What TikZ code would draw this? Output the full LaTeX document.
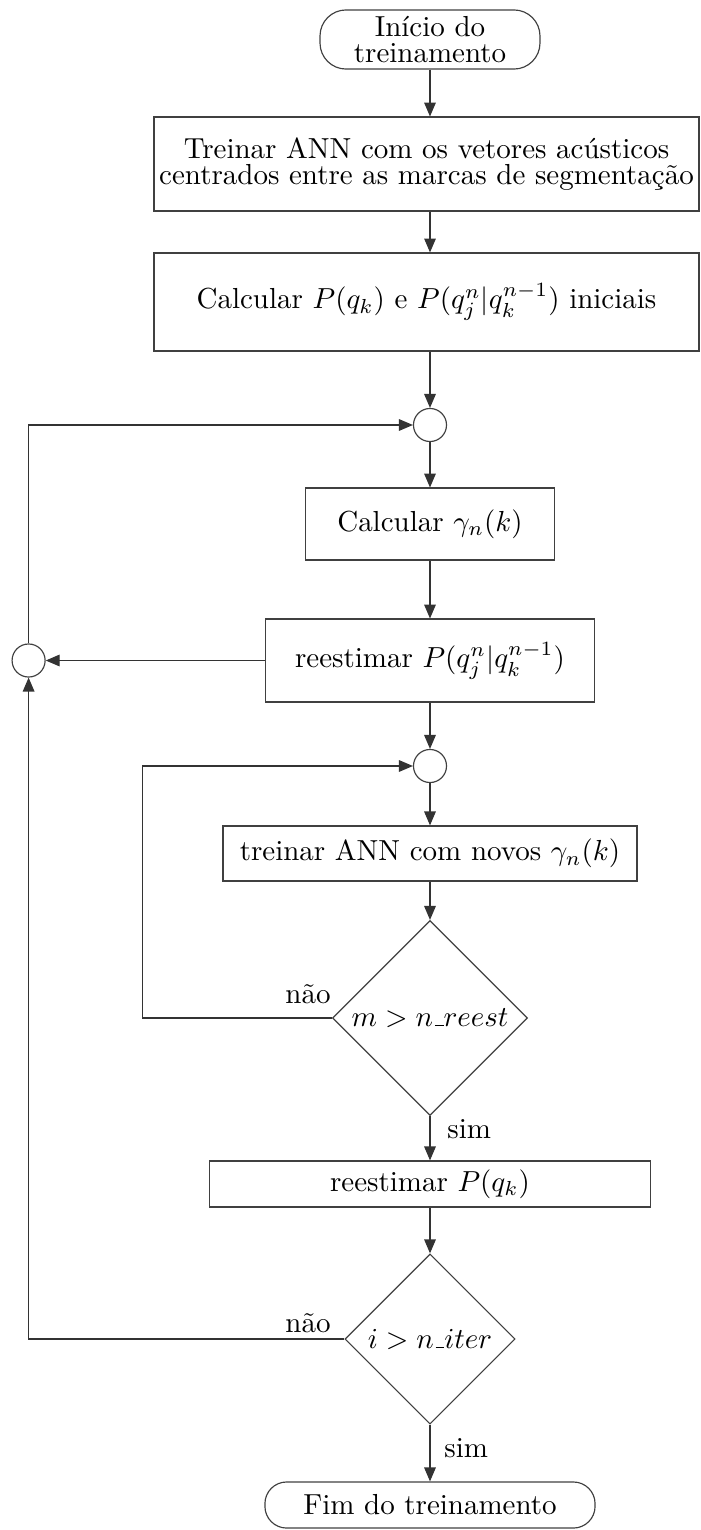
\documentclass[tikz,border=0pt]{standalone}
\usepackage{fontspec}
\usepackage{amsmath}
\usetikzlibrary{shapes.geometric, arrows.meta}

\newcommand\usc{\kern.06em\vbox{\hrule width.3em}}

\tikzset{
  flow/.style={draw=black!80, -{Triangle[length=4.8pt,width=4pt]}},
  procbox/.style={draw=black!75, rectangle, align=center, inner sep=1pt},
  termbox/.style={draw=black!75, rectangle, align=center, inner sep=1pt},
  junc/.style={draw=black!75, circle, minimum size=11.4pt, inner sep=0pt},
  decis/.style={draw=black!75, diamond, aspect=1, inner sep=0pt},
  lbl/.style={inner sep=1pt}
}

\begin{document}
\begin{tikzpicture}[x=0.345pt, y=-0.345pt]
  \useasboundingbox (0,0) rectangle (700,1530);
  % blocos
  \node[termbox, rounded corners=9pt, minimum width=75.9pt, minimum height=20.4pt] (inicio) at (430,39.5) {Início do\\[-3pt]treinamento};
  \node[procbox, minimum width=188pt, minimum height=32.4pt] (treinar) at (426.5,164) {Treinar ANN com os vetores acústicos\\[-3pt]centrados entre as marcas de segmentação};
  \node[procbox, minimum width=188pt, minimum height=33.8pt] (calcp) at (426.5,302) {Calcular $P(q_k)$ e $P(q_j^n|q_k^{n-1})$ iniciais};
  \node[junc] (c1) at (430,425) {};
  \node[procbox, minimum width=85.9pt, minimum height=24.8pt] (calcg) at (430,524) {Calcular $\gamma_n(k)$};
  \node[procbox, minimum width=113.5pt, minimum height=28.6pt] (reestpt) at (430,660.5) {reestimar $P(q_j^n|q_k^{n-1})$};
  \node[junc] (c2) at (28.6,660.5) {};
  \node[junc] (c3) at (430,766) {};
  \node[procbox, minimum width=142.8pt, minimum height=19pt] (treinann) at (430,853.5) {treinar ANN com novos $\gamma_n(k)$};
  \node[decis, minimum width=67.3pt, minimum height=67.3pt] (teste1) at (430,1018) {$m > n\usc reest$};
  \node[procbox, minimum width=152.1pt, minimum height=15.9pt] (reestq) at (430,1184) {reestimar $P(q_k)$};
  \node[decis, minimum width=58.7pt, minimum height=58.7pt] (teste2) at (430,1339) {$i > n\usc iter$};
  \node[termbox, rounded corners=7.5pt, minimum width=113.9pt, minimum height=15.9pt] (fim) at (430,1505) {Fim do treinamento};

  % rotulos
  \node[lbl, anchor=base east] (nao1) at (334,1003) {não};
  \node[lbl, anchor=base west] (sim1) at (444,1138) {sim};
  \node[lbl, anchor=base east] (nao2) at (334,1332) {não};
  \node[lbl, anchor=base west] (sim2) at (441,1457) {sim};

  % ligacoes
  \draw[flow] (inicio) -- (inicio |- treinar.north);
  \draw[flow] (c1 |- treinar.south) -- (c1 |- calcp.north);
  \draw[flow] (c1 |- calcp.south) -- (c1);
  \draw[flow] (c1) -- (calcg);
  \draw[flow] (calcg) -- (reestpt);
  \draw[flow] (reestpt) -- (c2);
  \draw[flow] (c2) |- (c1);
  \draw[flow] (reestpt) -- (c3);
  \draw[flow] (c3) -- (treinann);
  \draw[flow] (treinann) -- (teste1);
  \draw[flow] (teste1.west) -- ++(-189,0) |- (c3);
  \draw[flow] (teste1) -- (reestq);
  \draw[flow] (reestq) -- (teste2);
  \draw[flow] (teste2.west) -| (c2);
  \draw[flow] (teste2) -- (fim);
\end{tikzpicture}
\end{document}
